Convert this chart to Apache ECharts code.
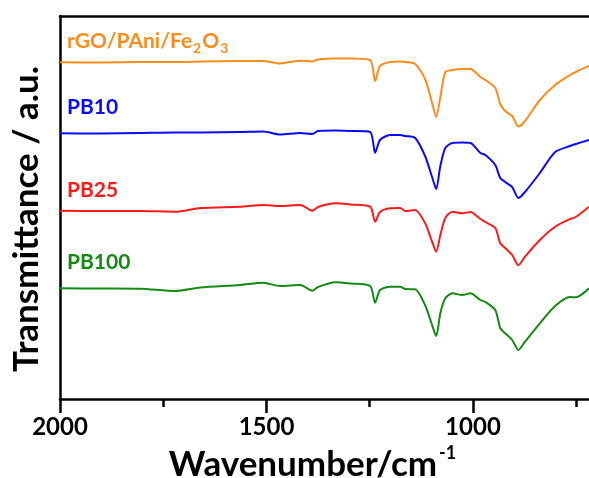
<!DOCTYPE html>
<html>
<head>
<meta charset="utf-8">
<script src="https://cdn.jsdelivr.net/npm/echarts@6/dist/echarts.min.js"></script>
<style>
  html, body { margin: 0; padding: 0; background: #fff; }
  #echarts1 { width: 589px; height: 478px; }
</style>
</head>
<body>
<div id="echarts1"></div>
<script>
// wavenumber grid (cm-1), shared by all four spectra
var wavenumbers = [2000, 1902, 1806, 1721, 1660, 1564, 1508, 1467, 1418, 1389, 1375, 1334, 1297, 1249, 1237, 1225,
    1201, 1176, 1164, 1140, 1116, 1099, 1089, 1079, 1067, 1050, 1026, 1006, 982, 970, 946, 934, 922, 905, 890, 874,
    838, 801, 765, 751, 719];

// offset transmittance (a.u.)
var rgoPaniFe2o3 = [336.7, 336.5, 337, 337, 337.5, 338, 338, 335.5, 338.3, 337.5, 339.5, 340.5, 340.5, 339, 318, 333,
    337, 337.5, 337, 335, 320, 296, 282, 302, 327, 329, 330, 330, 322, 319, 311, 295, 288, 283, 272.5, 278,
    299, 314, 324, 327, 333];
var pb10 = [265.7, 265.5, 266, 266.5, 266.5, 267, 267.5, 264.5, 266, 265, 268, 268.5, 268, 267, 246.3, 259,
    264, 264, 263, 261, 243, 222, 210, 233, 251, 256, 256.5, 256, 246, 244, 234, 221, 217, 212, 201, 207,
    226, 247, 253, 255, 259];
var pb25 = [188.3, 188, 188, 187.3, 191, 192.3, 194, 193, 194, 188.3, 192, 195.7, 194.5, 192.3, 177.3, 187,
    190.7, 191, 188, 189, 176, 157.3, 147.3, 164, 181, 187.3, 185.7, 187, 180, 177, 171, 156, 151, 144, 133.7, 142.3,
    159, 172.3, 180, 182, 192.3];
var pb100 = [110.7, 110.5, 110.3, 108, 111.5, 114, 116.3, 113, 114, 108.3, 112, 116.7, 115.5, 113, 96.3, 109,
    112.3, 112.3, 110, 109.7, 94, 74, 63, 85.7, 100.7, 105.7, 104, 105.7, 99, 97, 89, 71, 65.7, 59, 49, 57.3,
    75.7, 93, 102, 101.7, 110.7];

var majorTicks = [2000, 1500, 1000];
var minorTicks = [1750, 1250, 750];

function pairs(vals) {
    return wavenumbers.map(function (w, i) { return [w, vals[i]]; });
}

function echarts_1() {
    var myChart = echarts.init(document.getElementById('echarts1'));
    var font = 'Lato';

    function spectrum(name, vals, color) {
        return {
            name: name,
            type: 'line',
            data: pairs(vals),
            smooth: 0.25,
            symbol: 'none',
            lineStyle: { width: 2, color: color },
            itemStyle: { color: color }
        };
    }

    option = {
        animation: false,
        backgroundColor: '#fff',
        grid: { left: 60, right: 0, top: 16, bottom: 79, outerBoundsMode: 'none' },
        xAxis: [
            {
                type: 'value',
                inverse: true,
                min: 719,
                max: 2000,
                position: 'bottom',
                name: 'Wavenumber/cm{sup|-1}',
                nameLocation: 'middle',
                nameGap: 44,
                nameTextStyle: {
                    fontFamily: font, fontWeight: 'bold', fontSize: 35, color: '#000',
                    padding: [0, 24, 0, 0],
                    rich: { sup: { fontFamily: font, fontWeight: 'bold', fontSize: 18, color: '#000', verticalAlign: 'top', padding: [0, 0, 24, 2] } }
                },
                axisLine: { lineStyle: { color: '#000', width: 2.5 } },
                axisTick: { customValues: majorTicks, length: 14, lineStyle: { color: '#000', width: 2.5 } },
                axisLabel: {
                    customValues: majorTicks, fontFamily: font, fontWeight: 'bold', fontSize: 24, color: '#000', margin: 16,
                    formatter: function (v) { return String(v); }
                },
                splitLine: { show: false }
            },
            {
                type: 'value',
                inverse: true,
                min: 719,
                max: 2000,
                position: 'bottom',
                axisLine: { show: false },
                axisTick: { customValues: minorTicks, length: 8, lineStyle: { color: '#000', width: 2.5 } },
                axisLabel: { show: false },
                splitLine: { show: false }
            },
            {
                type: 'value',
                inverse: true,
                min: 719,
                max: 2000,
                position: 'top',
                axisLine: { lineStyle: { color: '#000', width: 2.5 } },
                axisTick: { show: false },
                axisLabel: { show: false },
                splitLine: { show: false }
            }
        ],
        yAxis: {
            type: 'value',
            min: 0,
            max: 383,
            axisLine: { show: true, lineStyle: { color: '#000', width: 2.5 } },
            axisTick: { show: false },
            axisLabel: { show: false },
            splitLine: { show: false }
        },
        graphic: [
            {
                type: 'text', x: 27, y: 219, rotation: Math.PI / 2,
                style: {
                    text: 'Transmittance / a.u.', fill: '#000', font: 'bold 35px Lato',
                    align: 'center', verticalAlign: 'middle'
                }
            },
            {
                type: 'text', left: 67, top: 31,
                style: {
                    text: 'rGO/PAni/Fe{sub|2}O{sub|3}',
                    fill: '#ff8c1a',
                    font: 'bold 21px Lato',
                    rich: { sub: { font: 'bold 14px Lato', fill: '#ff8c1a', verticalAlign: 'bottom', padding: [13, 1, 0, 1] } }
                }
            },
            { type: 'text', left: 67, top: 97, style: { text: 'PB10', fill: '#0a0aff', font: 'bold 21px Lato' } },
            { type: 'text', left: 67, top: 180, style: { text: 'PB25', fill: '#ff1a1a', font: 'bold 21px Lato' } },
            { type: 'text', left: 67, top: 252, style: { text: 'PB100', fill: '#138a13', font: 'bold 21px Lato' } }
        ],
        series: [
            spectrum('rGO/PAni/Fe2O3', rgoPaniFe2o3, '#ff8c1a'),
            spectrum('PB10', pb10, '#0a0aff'),
            spectrum('PB25', pb25, '#ff1a1a'),
            spectrum('PB100', pb100, '#138a13')
        ]
    };

    myChart.setOption(option);
    window.addEventListener("resize", function () {
        myChart.resize();
    });
}

echarts_1();
</script>
</body>
</html>
